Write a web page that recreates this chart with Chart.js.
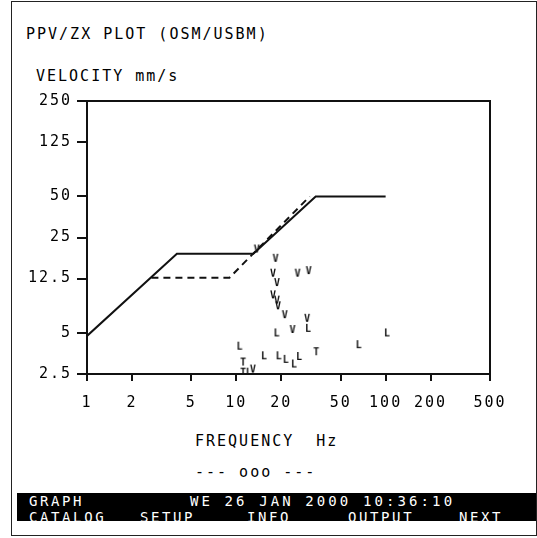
<!DOCTYPE html>
<html>
<head>
<meta charset="utf-8">
<script src="https://cdn.jsdelivr.net/npm/chart.js@4/dist/chart.umd.min.js"></script>
<style>
  body { margin: 0; width: 537px; height: 538px; background: #fff; position: relative; overflow: hidden; font-family: 'DejaVu Sans Mono', monospace; }
  #c { position: absolute; left: 0; top: 0; }
  .frame { position: absolute; left: 11px; top: 1px; width: 526px; height: 535px; border: 1px solid #222; box-sizing: border-box; }
  .txt { position: absolute; font-size: 15px; letter-spacing: 2px; line-height: 16px; color: #000; white-space: pre; }
  .bar { position: absolute; left: 17px; top: 493px; width: 519px; height: 28px; background: #000; overflow: hidden; }
  .bar span { position: absolute; color: #fff; font-size: 14px; line-height: 14px; letter-spacing: 2.6px; white-space: pre; }
</style>
</head>
<body>
<div class="frame"></div>
<div class="txt" style="left:26px; top:26px;">PPV/ZX PLOT (OSM/USBM)</div>
<div class="txt" style="left:36px; top:68px;">VELOCITY mm/s</div>
<div class="txt" style="left:195px; top:433px;">FREQUENCY  Hz</div>
<div class="txt" style="left:195px; top:464px;">--- ooo ---</div>
<div class="bar">
  <span style="left:12px; top:1px;">GRAPH</span>
  <span style="left:173px; top:1px; letter-spacing:3.1px;">WE 26 JAN 2000 10:36:10</span>
  <span style="left:12px; top:17px;">CATALOG</span>
  <span style="left:123px; top:17px;">SETUP</span>
  <span style="left:230px; top:17px;">INFO</span>
  <span style="left:331px; top:17px;">OUTPUT</span>
  <span style="left:442px; top:17px;">NEXT</span>
</div>
<canvas id="c" width="537" height="538"></canvas>
<script>
// axis ticks
const freqTicks = [1, 2, 5, 10, 20, 50, 100, 200, 500];
const velTicks = [2.5, 5, 12.5, 25, 50, 125, 250];

// USBM limit (solid) and OSM limit (dashed)
const usbmFreq = [1, 4, 13, 34, 100];
const usbmVel = [4.75, 19, 19, 50, 50];
const osmFreq = [2.7, 9, 31];
const osmVel = [12.7, 12.7, 50];

// event points, by channel letter
const vFreq = [13.7, 18.3, 17.6, 18.7, 25.7, 30.5, 17.6, 18.7, 19.0, 21.1, 29.8, 23.8, 12.9];
const vVel = [20.6, 17.6, 13.7, 11.7, 13.7, 14.3, 9.5, 8.7, 7.9, 6.8, 6.4, 5.3, 2.72];
const lFreq = [30.2, 18.6, 102, 65.9, 10.5, 15.3, 19.2, 21.4, 24.3, 26.3, 12.1];
const lVel = [5.4, 5.0, 5.0, 4.1, 4.0, 3.4, 3.4, 3.2, 2.96, 3.36, 2.58];
const tFreq = [34.3, 11.1, 11.1];
const tVel = [3.64, 3.06, 2.58];

const ink = '#111';
const tickFont = { family: 'DejaVu Sans Mono', size: 15 };

function pairs(xs, ys) {
    return xs.map((x, i) => ({ x: x, y: ys[i] }));
}

function letterIcon(ch) {
    const c = document.createElement('canvas');
    c.width = 10;
    c.height = 11;
    const g = c.getContext('2d');
    g.fillStyle = ink;
    g.font = 'bold 10px "DejaVu Sans Mono"';
    g.textAlign = 'center';
    g.textBaseline = 'middle';
    g.fillText(ch, 5, 6);
    return c;
}

function pointSet(label, xs, ys) {
    return {
        label: label,
        data: pairs(xs, ys),
        showLine: false,
        pointStyle: letterIcon(label),
        pointRadius: 5
    };
}

const boxPlugin = {
    id: 'box',
    beforeDraw(chart) {
        chart.ctx.letterSpacing = '2px';
    },
    beforeDatasetsDraw(chart) {
        const a = chart.chartArea;
        const ctx = chart.ctx;
        ctx.save();
        ctx.strokeStyle = ink;
        ctx.lineWidth = 2;
        ctx.strokeRect(a.left, a.top, a.right - a.left, a.bottom - a.top);
        ctx.restore();
    }
};

const config = {
    type: 'scatter',
    data: {
        datasets: [
            {
                label: 'USBM',
                data: pairs(usbmFreq, usbmVel),
                showLine: true,
                borderColor: ink,
                borderWidth: 2,
                pointRadius: 0
            },
            {
                label: 'OSM',
                data: pairs(osmFreq, osmVel),
                showLine: true,
                borderColor: ink,
                borderWidth: 2,
                borderDash: [7, 5],
                pointRadius: 0
            },
            pointSet('V', vFreq, vVel),
            pointSet('L', lFreq, lVel),
            pointSet('T', tFreq, tVel)
        ]
    },
    options: {
        responsive: false,
        animation: false,
        events: [],
        layout: { padding: { left: 12, top: 101, right: 47, bottom: 124 } },
        plugins: {
            legend: { display: false },
            title: { display: false },
            tooltip: { enabled: false }
        },
        scales: {
            x: {
                type: 'logarithmic',
                min: 1,
                max: 500,
                afterBuildTicks: s => { s.ticks = freqTicks.map(v => ({ value: v })); },
                afterFit: s => { s.height = 40; },
                ticks: {
                    callback: v => String(v),
                    autoSkip: false,
                    maxRotation: 0,
                    padding: 13,
                    font: tickFont,
                    color: '#000'
                },
                grid: { drawOnChartArea: false, tickLength: 7, color: ink, lineWidth: 2 },
                border: { color: ink, width: 2 }
            },
            y: {
                type: 'logarithmic',
                min: 2.5,
                max: 250,
                afterBuildTicks: s => { s.ticks = velTicks.map(v => ({ value: v })); },
                afterFit: s => { s.width = 75; },
                ticks: {
                    callback: v => String(v),
                    autoSkip: false,
                    padding: 5,
                    font: tickFont,
                    color: '#000'
                },
                grid: { drawOnChartArea: false, tickLength: 10, color: ink, lineWidth: 2 },
                border: { color: ink, width: 2 }
            }
        }
    },
    plugins: [boxPlugin]
};

const myChart = new Chart(document.getElementById('c'), config);
</script>
</body>
</html>
